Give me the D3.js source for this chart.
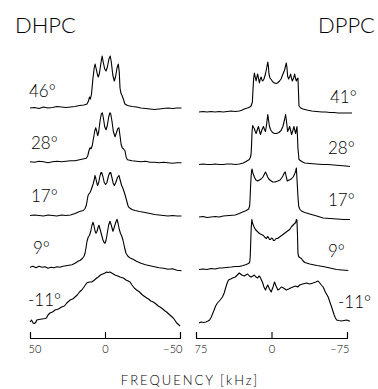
<!DOCTYPE html>
<html>
<head>
<meta charset="utf-8">
<script src="https://cdn.jsdelivr.net/npm/d3@7/dist/d3.min.js"></script>
<style>
  body { margin: 0; background: #fff; }
  svg { display: block; font-family: Lato, "Liberation Sans", sans-serif; font-weight: 300; }
  .trace { fill: none; stroke: #000; stroke-width: 1.1; stroke-linejoin: round; }
  .axis path, .axis line { stroke: #000; stroke-width: 1.1; }
  .axis text { font-family: Lato, "Liberation Sans", sans-serif; font-size: 11px; fill: #000; }
  .temp { font-size: 17px; fill: #000; }
  .title { font-size: 22px; fill: #000; }
</style>
</head>
<body>
<div id="chart"></div>
<script>
// temperatures, top to bottom
const dhpcTemps = ["46°", "28°", "17°", "9°", "-11°"];
const dppcTemps = ["41°", "28°", "17°", "9°", "-11°"];

const dhpcTicks = [50, 0, -50];
const dppcTicks = [75, 0, -75];

// spectra: [frequency kHz, intensity a.u.]
const dhpc46 = [[50,0],[47,0.5],[44,-0.5],[41,1],[38,0],[35,0.5],[32,1.5],[29,1],[26,0.5],[23,1],[20,1.5],[17,2.5],[14,3],[12,4],[11,7],[10.3,11],[9.7,9],[9,14],[8,30],[7.2,40],[6.6,44],[6,40],[5,33],[4.5,31],[3.8,34],[2.8,44],[1.9,52],[1.2,46],[0.2,39],[-0.7,37],[-1.6,41],[-2.6,49],[-3.5,52],[-4.2,46],[-5.2,33],[-6.2,27],[-7,31],[-8,40],[-8.9,44],[-9.5,36],[-10,20],[-10.6,15],[-11.5,12],[-12.2,9],[-13.3,4],[-15,2.5],[-18,1.5],[-21,1],[-24,0],[-27,-0.5],[-30,-1],[-33,-1.5],[-36,-1],[-39,-0.5],[-42,0],[-45,-0.5],[-48,0],[-51,0]];
const dhpc28 = [[50,0],[47,-0.5],[44,0.5],[41,0],[38,-1],[35,0],[32,0.5],[29,0],[26,0.5],[23,1],[20,1],[17,2],[14,3],[12.5,3.5],[11.5,6],[10.7,11],[10,14],[9.3,13],[8.5,16],[7.5,25],[6.8,31],[6.2,34],[5.6,31],[4.9,26],[4.2,30],[3.2,42],[2.4,48],[1.8,49],[1.1,44],[0.2,35],[-0.7,32],[-1.5,36],[-2.5,45],[-3.3,49],[-3.8,48],[-4.6,41],[-5.6,30],[-6.7,25],[-7.6,29],[-8.5,33],[-9.3,34],[-10,26],[-10.8,17],[-11.5,14],[-12.3,13],[-13.3,11],[-14.2,4],[-15,2],[-18,1],[-21,0.5],[-24,0],[-27,0.5],[-30,-0.5],[-33,-0.5],[-36,-1],[-39,-0.5],[-42,-1],[-45,-1.5],[-48,-1],[-51,-1]];
const dhpc17 = [[50,0],[47,0.5],[44,0],[41,-0.5],[38,0.5],[35,0],[32,-0.5],[29,0.5],[26,0],[23,0.5],[20,2],[17,4],[14.5,5],[13.3,7],[12.5,10],[12,14],[11.3,20],[10.5,22],[10,23],[9.4,25],[8.7,28],[7.8,32],[7,37],[6.7,40],[6.1,37],[5.2,31],[4.9,30],[4.2,33],[3.3,40],[2.6,43],[2.2,43],[1.4,39],[0.5,33],[-0.4,31],[-1.3,33],[-2.4,40],[-3.3,43],[-3.8,43],[-4.6,38],[-5.5,32],[-6.2,30],[-7.2,33],[-8.3,38],[-9.3,40],[-10,36],[-11.1,30],[-12,27],[-12.9,23],[-13.7,19],[-14.4,15],[-15.3,10],[-16,8],[-18,6],[-20,5],[-23,4],[-26.7,3],[-30,2],[-33,1],[-36,0.5],[-39,0],[-42,-0.5],[-45,0],[-48,-0.5],[-51,-0.5]];
const dhpc9 = [[50,2],[48,3],[46,1.5],[44,3],[42,2],[40,2.5],[38,1],[36,2],[34,1.5],[32,2.5],[30,2],[28,3],[26,3.5],[24,4],[22,4.5],[20,6],[18,8],[16.5,9],[15,11],[14,13],[13.3,16],[12.6,22],[12,28],[11.2,32],[10.3,34],[9.5,38],[8.7,44],[8,47],[7.4,44],[6.6,38],[6,36],[5.3,38],[4.6,42],[4,44],[3.3,40],[2.4,35],[1.5,30],[0.7,27],[0,26],[-0.7,29],[-1.5,36],[-2.4,44],[-3.3,48],[-4.2,44],[-5.3,38],[-6.2,42],[-7.2,47],[-8,50],[-8.7,46],[-9.5,40],[-10.3,36],[-11.2,33],[-12,29],[-13,22],[-14,16],[-15.3,13],[-16.5,11.5],[-18.7,10],[-21,8],[-24,6],[-27,4.5],[-30,3.5],[-33,2.5],[-36,1.5],[-39,1],[-42,0],[-45,0.5],[-48,-1],[-51,-1.5]];
const dhpcM11 = [[50,1],[49,3],[48,0],[47,-0.5],[46,1],[45.5,3],[44,3.5],[42,4],[40,4.5],[39,5],[38,8],[36.7,10],[35,11],[33.3,13],[31,14],[29,16],[27,17],[25.5,20],[24,22],[23.3,23],[21.5,24],[20,26],[18.5,28],[17,31],[15.5,33],[14,36],[12.2,40],[10.5,41],[8.9,41],[7,43],[5.5,45],[4.5,46],[3,48],[1.5,49],[0,50],[-1,51],[-2,50.5],[-3.3,51],[-5,49.5],[-6.7,48],[-8.5,47],[-10,46],[-12.2,45],[-14,43],[-15.5,42],[-16.7,41],[-18,38],[-19.5,35],[-21.1,33],[-23,31],[-25,28],[-27.8,25],[-29,24],[-30.5,22],[-32.2,21],[-34,19],[-35.5,17],[-36.7,16],[-38.5,14],[-40,12],[-41.1,11],[-42.5,9],[-44,7],[-45.5,5],[-46.5,3],[-47.8,0],[-49,-1.5],[-50,-3]];

const dppc41 = [[72,0],[68,0.5],[64,0],[60,0.5],[56,0],[52,0.5],[48,0],[44,0.5],[40,1],[36,0.5],[32,1],[29,2],[27,3],[24,4],[21.5,5],[20.3,6],[19,10],[18.4,22],[17.7,34],[17,39],[16.2,35],[15.3,31],[14.5,35],[13.7,38],[12.8,33],[12,29],[11.2,33],[10.3,35],[9.5,32],[8.7,31],[7.5,33],[6,38],[4.8,44],[3.7,50],[3.1,46],[2.5,38],[1.5,34],[0,32],[-1.5,30],[-3,29],[-4.5,28.5],[-6,29],[-8,31],[-9.5,33],[-11,37],[-13,42],[-14.7,49],[-15.3,45],[-16,36],[-17,33],[-18,35],[-19,38],[-19.8,34],[-20.7,31],[-22,34],[-23,38],[-23.8,34],[-24.7,31],[-25.5,33],[-26.3,34],[-26.8,20],[-27.3,6],[-29,4],[-31.3,3],[-35,2],[-40,1],[-44.7,0.5],[-50,0],[-54,0],[-58,-0.5],[-62,-0.5],[-66,-1],[-70,-1],[-75,-1],[-80,-1]];
const dppc28 = [[72,0],[68,0.5],[64,0],[60,0],[56,0.5],[52,0],[48,0],[44,0.5],[40,0.5],[36,0],[32,0.5],[28,1.5],[25.3,3],[22,5],[21,7],[20.3,10],[19.8,20],[19.3,33],[18.7,39],[17.8,37],[17,36],[16.2,33],[15.3,31],[14,35],[13,38],[12,34],[11,30],[10,33],[9,36],[8,38],[7,35],[6,33],[5,39],[4.3,45],[3.7,50],[3,45],[2,38],[1,35],[-1,32],[-3,31],[-5,31],[-7.3,32],[-9.5,34],[-11.3,38],[-12.8,44],[-14,50],[-14.8,44],[-16,33],[-17,35],[-18,38],[-19,34],[-20,30],[-21.2,34],[-22.3,38],[-23.2,34],[-24,31],[-24.7,35],[-25.3,38],[-25.8,28],[-26.3,16],[-27.3,5],[-30,3],[-33,1.5],[-38,1],[-44,0.5],[-51,0],[-56,0],[-62,-0.5],[-68,-1],[-74,-1.5],[-78,-2]];
const dppc17 = [[72,0],[68,0.5],[64,-0.5],[60,0],[56,0.5],[52,0],[48,1],[42,1.5],[36,2],[32,3.5],[28.7,5],[25,6.5],[22.7,8],[21.7,11],[21.3,18],[20.8,30],[20.3,40],[19.8,46],[19.3,48],[18.5,44],[17,40],[15.5,37],[13.7,36],[12,37],[10.3,38],[8.5,40],[7,43],[6,45],[5,43],[3.8,40],[2.7,38],[1,36.5],[-1.3,35],[-3.5,35],[-6.3,36],[-8.5,37],[-10,39],[-11.3,41],[-12.7,44],[-13.7,45],[-14.7,40],[-15.7,36],[-17.5,37],[-19.7,38],[-21.5,40],[-23,43],[-24,46],[-24.7,49],[-25.2,40],[-25.7,31],[-26.3,20],[-27,11],[-28,8],[-29.7,6],[-33,4.5],[-38,3],[-45,1],[-51.3,-1],[-58,-1.5],[-65,-2],[-72,-2.5],[-78,-2.5]];
const dppc9 = [[72,0],[68,0.5],[64,0],[60,1],[56,0.5],[52,1.5],[49,1.5],[45,2],[40,2.5],[36,3],[32,3],[28,4],[25,5],[23,6],[21.7,7],[21.2,12],[20.8,22],[20.5,32],[20.1,42],[19.5,50],[18.7,46],[17.5,43],[16,40],[14,38],[12,36],[10,35],[8,34],[6.5,32],[5,31],[4,33],[3,32],[2,30],[1,30],[0,31.5],[-1,31],[-2,29],[-3,29],[-4.5,31],[-6,31],[-8,32.5],[-10,34],[-12,35.5],[-14,37],[-16,38.5],[-18,40],[-20,43],[-22,45],[-24,47],[-24.8,50],[-25.3,49],[-25.8,35],[-26.3,16],[-27,13],[-28,12],[-29.7,11],[-31,9],[-33,7],[-38,5.5],[-45,4],[-51.3,3],[-58,1.5],[-64.7,0],[-70,-0.5],[-76.3,-1]];
const dppcM11 = [[72,-1],[70,0],[67.5,-0.5],[65.3,0],[63,1],[61.5,2],[60.3,4],[59,7],[57,12],[55.5,16],[53.7,19],[51,22],[48.7,25],[47,29],[45.3,35],[44,39],[42.7,42],[40.5,43],[38.7,44],[36,45],[34,47],[32,49],[29.5,47],[27,46],[25.5,47],[23.7,48],[22,46],[20.3,45],[18.5,46],[17,47],[15.5,45],[13.7,44],[12.5,46],[11.3,45],[10,42],[8.7,39],[7.5,35],[6,32],[4.8,35],[3.7,37],[2,33],[0.3,30],[-1.5,35],[-3,40],[-4.5,36],[-6.3,32],[-8,33],[-9.7,35],[-12,34],[-14.7,32],[-17,33],[-19,34],[-21.3,35],[-24,36],[-26,35],[-28,37],[-31,38],[-34.7,39],[-38,38],[-41.3,39],[-44,40],[-46.3,41],[-48,39],[-49.5,37],[-51.3,35],[-53.5,30],[-56.3,25],[-58,20],[-59.7,15],[-61,11],[-62.3,7],[-63.5,4],[-64.7,2],[-67,1.5],[-69.7,1],[-72,1.5],[-74.7,2],[-77,1],[-78,1]];

const panels = [
  { name: "DHPC", temps: dhpcTemps, ticks: dhpcTicks, spectra: [dhpc46, dhpc28, dhpc17, dhpc9, dhpcM11],
    domain: [50, -50], range: [30, 180], rows: [108, 323], labels: [97, 306], labelX: [29, 31, 31, 33, 28],
    titleX: 15, titleAnchor: "start" },
  { name: "DPPC", temps: dppcTemps, ticks: dppcTicks, spectra: [dppc41, dppc28, dppc17, dppc9, dppcM11],
    domain: [75, -75], range: [196, 347], rows: [112, 322], labels: [103, 308], labelX: [330, 328, 328, 328, 338],
    titleX: 375, titleAnchor: "end" }
];

const width = 378, height = 389;
const axisY = 338;

const svg = d3.select("#chart").append("svg")
  .attr("width", width)
  .attr("height", height);

// intensity in a.u. -> pixels above the baseline
const amp = d3.scaleLinear().domain([0, 50]).range([0, -50]);

panels.forEach(p => {
  const x = d3.scaleLinear().domain(p.domain).range(p.range);
  const row = d3.scalePoint().domain(p.temps).range(p.rows);
  const labelRow = d3.scalePoint().domain(p.temps).range(p.labels);

  const g = svg.append("g");

  g.append("text")
    .attr("class", "title")
    .attr("x", p.titleX)
    .attr("y", 33)
    .attr("text-anchor", p.titleAnchor)
    .text(p.name);

  p.spectra.forEach((s, i) => {
    const t = p.temps[i];
    const line = d3.line()
      .x(d => x(d[0]))
      .y(d => row(t) + amp(d[1]));

    g.append("path")
      .datum(s)
      .attr("class", "trace")
      .attr("d", line);

    g.append("text")
      .attr("class", "temp")
      .attr("x", p.labelX[i])
      .attr("y", labelRow(t))
      .text(t);
  });

  const axis = d3.axisBottom(x)
    .tickValues(p.ticks)
    .tickSize(-6)
    .tickPadding(7)
    .tickFormat(d => d < 0 ? "\u2212" + Math.abs(d) : d);

  const ax = g.append("g")
    .attr("class", "axis")
    .attr("transform", `translate(0,${axisY})`)
    .call(axis);

  ax.selectAll(".tick text")
    .attr("text-anchor", (d, i) => i === 0 ? "start" : i === p.ticks.length - 1 ? "end" : "middle")
    .attr("dx", (d, i) => i === 0 ? -2 : i === p.ticks.length - 1 ? 2 : 0);
});

svg.append("text")
  .attr("x", 190)
  .attr("y", 385)
  .attr("text-anchor", "middle")
  .style("font-size", "13px")
  .style("letter-spacing", "2px")
  .style("fill", "#000")
  .text("FREQUENCY [kHz]");
</script>
</body>
</html>
